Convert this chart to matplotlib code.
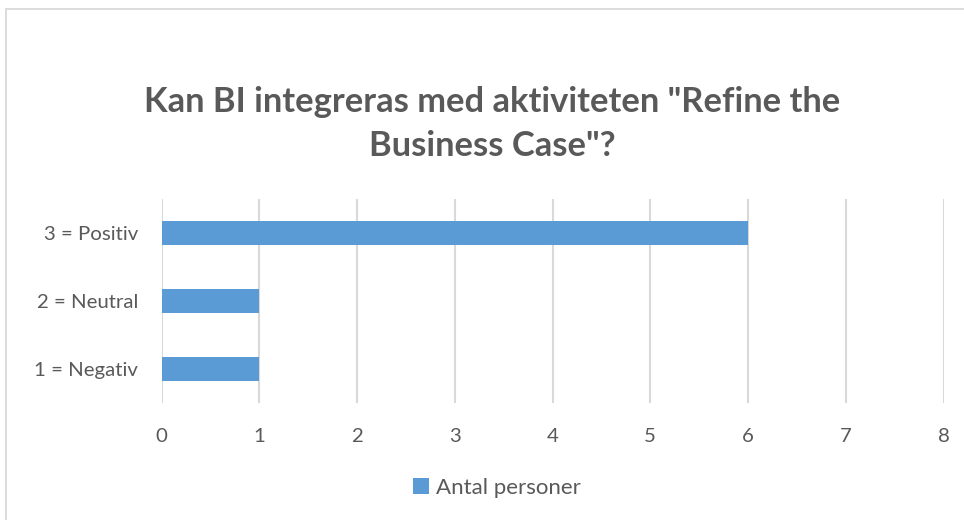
import matplotlib
matplotlib.use('Agg')
import matplotlib.pyplot as plt
from matplotlib.patches import Rectangle

# data
categories = ['1 = Negativ', '2 = Neutral', '3 = Positiv']
antal_personer = [1, 1, 6]
x_ticks = [0, 1, 2, 3, 4, 5, 6, 7, 8]
title = 'Kan BI integreras med aktiviteten "Refine the\nBusiness Case"?'
series_name = 'Antal personer'

W, H = 964, 520
plt.rcParams['font.family'] = ['Lato', 'DejaVu Sans']
fig = plt.figure(figsize=(W / 100, H / 100), dpi=100)

# chart frame (light gray border, runs off right/bottom edge)
fig.patches.append(Rectangle((6 / W, -0.01), 1.02, 1 - 9 / H + 0.01, transform=fig.transFigure,
                             fill=False, edgecolor='#d9d9d9', linewidth=1.3))

left, right, top, bottom = 161.5, 943.5, 199, 403
ax = fig.add_axes([left / W, 1 - bottom / H, (right - left) / W, (bottom - top) / H])
ax.barh(range(len(categories)), antal_personer, height=0.36, color='#5B9BD5', zorder=3,
        label=series_name)
ax.set_xlim(0, 8)
ax.set_ylim(-0.5, len(categories) - 0.5)
ax.set_xticks(x_ticks)
ax.set_yticks(range(len(categories)))
ax.set_yticklabels(categories)
ax.grid(axis='x', color='#d9d9d9', linewidth=1.5, zorder=0)
for s in ax.spines.values():
    s.set_visible(False)
ax.tick_params(length=0, labelsize=14.7, colors='#595959')
ax.tick_params(axis='x', pad=18)
ax.tick_params(axis='y', pad=17)

fig.text(492 / W, 1 - 124 / H, title, ha='center', va='center', fontsize=24.8,
         fontweight='bold', color='#595959', linespacing=1.47)

fig.legend(loc='center', bbox_to_anchor=(497 / W, 1 - 488 / H), frameon=False,
           fontsize=16, labelcolor='#595959', handlelength=0.7, handleheight=0.7,
           handletextpad=0.3)

fig.savefig('out.png', dpi=100)
